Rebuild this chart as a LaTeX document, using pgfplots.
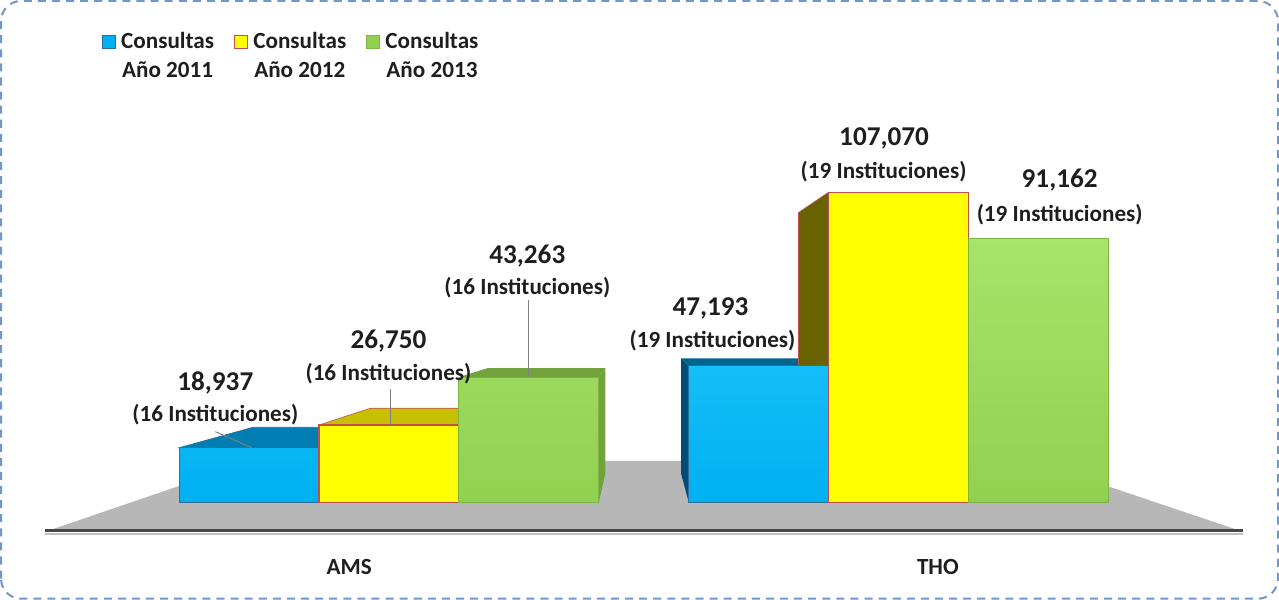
\documentclass[border=0pt]{standalone}
\usepackage{fontspec}
\setmainfont{Carlito}
\usepackage{pgfplots}
\pgfplotsset{compat=1.18}
\definecolor{cblue}{HTML}{00B0F0}
\definecolor{cbluetop}{HTML}{14BEF8}
\definecolor{cblueedge}{HTML}{2A6F9E}
\definecolor{cbluelid}{HTML}{007DB3}
\definecolor{cblueside}{HTML}{004C72}
\definecolor{cyellow}{HTML}{FFFF00}
\definecolor{cyellowedge}{HTML}{C0504D}
\definecolor{cyellowlid}{HTML}{C6C000}
\definecolor{cyellowside}{HTML}{686200}
\definecolor{cgreen}{HTML}{92D050}
\definecolor{cgreentop}{HTML}{A6E46A}
\definecolor{cgreenedge}{HTML}{7DB446}
\definecolor{cgreenlid}{HTML}{72A23C}
\definecolor{floorgray}{HTML}{B7B7B7}
\definecolor{framblue}{HTML}{7096CF}
\definecolor{txt}{HTML}{1E1E1E}
\newcommand{\vlab}{\fontsize{13.5}{16}\selectfont\bfseries}
\newcommand{\ilab}{\fontsize{11.5}{14}\selectfont\bfseries}

\begin{document}
\begin{tikzpicture}
\begin{axis}[
  scale only axis, width=639.5pt, height=300pt,
  xmin=-0.77098, xmax=1.75419, ymin=-34180, ymax=174020,
  axis lines=none, clip=false,
  legend columns=3,
  legend style={at={(rel axis cs:0.0821,0.944)}, anchor=north west,
    draw=none, fill=none, inner sep=0pt, text=txt,
    font=\fontsize{11.5}{14.5}\selectfont\bfseries,
    nodes={align=center, inner sep=0pt},
    /tikz/every odd column/.append style={column sep=2.5pt},
    /tikz/every even column/.append style={column sep=10pt}},
]
% frame
\draw[framblue, line width=1pt, dash pattern=on 4pt off 3pt, rounded corners=10pt]
  (rel axis cs:0.0039,0.005) rectangle (rel axis cs:0.9961,0.995);

% floor
\addplot[fill=floorgray, draw=none, forget plot]
  coordinates {(-0.6663,-9543) (1.6673,-9543) (1.2626,14400) (-0.2675,14400)} -- cycle;
\draw[black!25, line width=1pt] (axis cs:-0.675,-10800) -- (axis cs:1.676,-10800);
\draw[black!72, line width=1.5pt] (axis cs:-0.675,-9543) -- (axis cs:1.676,-9543);

% top and side faces (depth towards the vanishing point)
\addplot[fill=cbluelid, draw=cblueedge, line width=0.3pt, forget plot]
  coordinates {(-0.4116,18937) (-0.1372,18937) (-0.0364,25984) (-0.2669,25984)} -- cycle;
\addplot[fill=cyellowlid, draw=cyellowedge, line width=0.3pt, forget plot]
  coordinates {(-0.1372,26750) (0.1372,26750) (0.1941,32547) (-0.0364,32547)} -- cycle;
\addplot[fill=cgreenlid, draw=none, forget plot]
  coordinates {(0.1372,43263) (0.4116,43263) (0.4246,46418) (0.1941,46418)} -- cycle;
\addplot[fill=cgreenlid, draw=none, forget plot]
  coordinates {(0.4116,0) (0.4116,43263) (0.4246,46418) (0.4246,10077)} -- cycle;
\addplot[fill=cblueside, draw=none, forget plot]
  coordinates {(0.5884,0) (0.5884,47193) (0.5731,49719) (0.5731,10077)} -- cycle;
\addplot[fill=cbluelid!80!black, draw=none, forget plot]
  coordinates {(0.5884,47193) (0.8628,47193) (0.8036,49719) (0.5731,49719)} -- cycle;
\addplot[fill=cyellowside, draw=cyellowedge, line width=0.3pt, forget plot]
  coordinates {(0.8628,0) (0.8628,107070) (0.8036,100016) (0.8036,10077)} -- cycle;

% front faces: AMS = 0, THO = 1
\addplot[ybar, bar width=0.2744, bar shift=-0.2744, top color=cbluetop, bottom color=cblue,
  draw=cblueedge, line width=0.4pt, forget plot]
  coordinates {(0,18937) (1,47193)};
\addplot[ybar, bar width=0.2744, bar shift=0, fill=cyellow,
  draw=cyellowedge, line width=0.6pt, forget plot]
  coordinates {(0,26750) (1,107070)};
\addplot[ybar, bar width=0.2744, bar shift=0.2744, top color=cgreentop, bottom color=cgreen,
  draw=cgreenedge, line width=0.4pt, forget plot]
  coordinates {(0,43263) (1,91162)};

% legend
\addlegendimage{legend image code/.code={\draw[fill=cblue, draw=cblueedge, line width=0.5pt] (0pt,4pt) rectangle (6.5pt,10.5pt);}}
\addlegendimage{legend image code/.code={\draw[fill=cyellow, draw=cyellowedge, line width=0.5pt] (0pt,4pt) rectangle (6.5pt,10.5pt);}}
\addlegendimage{legend image code/.code={\draw[fill=cgreen, draw=cgreenedge, line width=0.5pt] (0pt,4pt) rectangle (6.5pt,10.5pt);}}
\legend{{Consultas\\Año 2011},{Consultas\\Año 2012},{Consultas\\Año 2013}}

% leader lines
\draw[black!50, line width=0.5pt] (axis cs:-0.3406,24464) -- (axis cs:-0.2695,18937);
\draw[black!50, line width=0.5pt] (axis cs:0.003,39038) -- (axis cs:0.003,26750);
\draw[black!50, line width=0.5pt] (axis cs:0.2734,69920) -- (axis cs:0.2734,43263);

% data labels
\begin{scope}[every node/.style={text=txt, inner sep=0pt}]
\node[font=\vlab] at (axis cs:-0.3406,41120) {18,937};
\node[font=\ilab] at (axis cs:-0.3406,30363) {(16 Instituciones)};
\node[font=\vlab] at (axis cs:-0.001,55694) {26,750};
\node[font=\ilab] at (axis cs:-0.001,44590) {(16 Instituciones)};
\node[font=\vlab] at (axis cs:0.2715,85189) {43,263};
\node[font=\ilab] at (axis cs:0.2715,74085) {(16 Instituciones)};
\node[font=\vlab] at (axis cs:0.6308,66798) {47,193};
\node[font=\ilab] at (axis cs:0.6347,55694) {(19 Instituciones)};
\node[font=\vlab] at (axis cs:0.9714,125440) {107,070};
\node[font=\ilab] at (axis cs:0.9704,113990) {(19 Instituciones)};
\node[font=\vlab] at (axis cs:1.3159,111214) {91,162};
\node[font=\ilab] at (axis cs:1.3159,99416) {(19 Instituciones)};
\node[font=\ilab] at (axis cs:-0.078,-22034) {AMS};
\node[font=\ilab] at (axis cs:1.077,-22034) {THO};
\end{scope}
\end{axis}
\end{tikzpicture}
\end{document}
